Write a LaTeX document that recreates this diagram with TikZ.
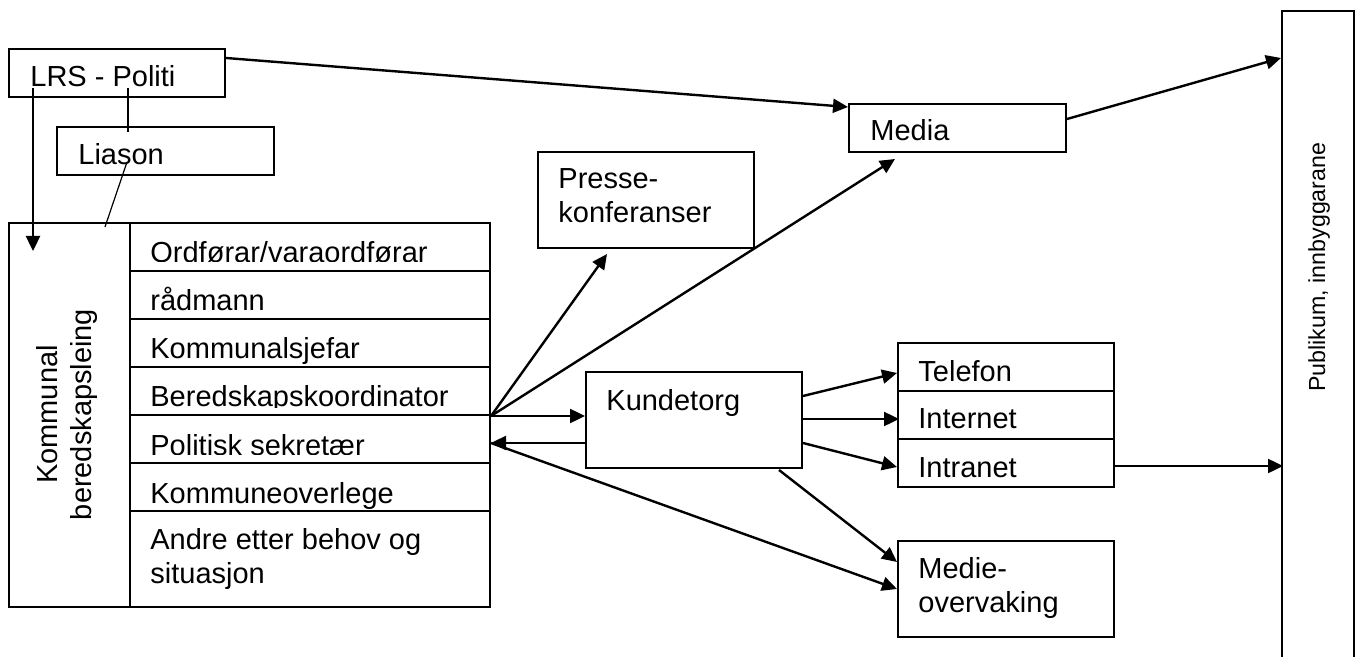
\documentclass[tikz,border=0pt]{standalone}
\usepackage{fontspec}
\setmainfont{Liberation Sans}
\usetikzlibrary{arrows.meta,calc}
\begin{document}
\begin{tikzpicture}[x=0.5pt,y=-0.5pt,
  box/.style={draw,line width=1pt,fill=white,rectangle,inner sep=0pt,anchor=north west},
  txt/.style={anchor=base west,inner sep=0pt,font=\fontsize{14.5}{17}\selectfont},
  vtxt/.style={txt,anchor=base,rotate=90},
  arr/.style={-{Triangle[length=7.5pt,width=7pt]},line width=1.2pt},
  link/.style={line width=0.6pt}]
\clip (0,0) rectangle (1359,657);
% ---- boxes
\node[box,minimum width=108pt,minimum height=24pt] (lrs) at (8,48) {};
\node[box,minimum width=108.5pt,minimum height=24pt] (lia) at (56,126) {};
\node[box,minimum width=240.5pt,minimum height=192pt] (big) at (8,222) {};
\node[box,minimum width=180pt,minimum height=24pt] (r1) at (129,222) {};
\node[box,minimum width=180pt,minimum height=24pt] (r2) at (129,270) {};
\node[box,minimum width=180pt,minimum height=24pt] (r3) at (129,318) {};
\node[box,minimum width=180pt,minimum height=24pt] (r4) at (129,366) {};
\node[box,minimum width=180pt,minimum height=24pt] (r5) at (129,414) {};
\node[box,minimum width=180pt,minimum height=24pt] (r6) at (129,462) {};
\node[box,minimum width=180pt,minimum height=48pt] (r7) at (129,510) {};
\node[box,minimum width=108pt,minimum height=48pt] (presse) at (537,151) {};
\node[box,minimum width=108.5pt,minimum height=24pt] (media) at (848,103) {};
\node[box,minimum width=108pt,minimum height=48pt] (kund) at (585,371) {};
\node[box,minimum width=108pt,minimum height=24pt] (tel) at (897,342) {};
\node[box,minimum width=108pt,minimum height=24pt] (inet) at (897,390) {};
\node[box,minimum width=108pt,minimum height=24pt] (intra) at (897,438) {};
\node[box,minimum width=108pt,minimum height=48pt] (medie) at (897,540) {};
\node[box,minimum width=36pt,minimum height=330pt] (pub) at (1281,10) {};
% ---- texts
\node[txt] (t-lrs) at (30,87) {LRS - Politi};
\node[txt] (t-lia) at (78,165) {Liason};
\begin{scope}
\clip (129,222) rectangle (489,262);
\node[txt] (t-r1) at (150,263) {Ordførar/varaordførar};
\end{scope}
\node[txt] (t-r2) at (150,311) {rådmann};
\node[txt] (t-r3) at (150,359) {Kommunalsjefar};
\begin{scope}
\clip (129,366) rectangle (489,407);
\node[txt] (t-r4) at (150,407) {Beredskapskoordinator};
\end{scope}
\begin{scope}
\clip (129,414) rectangle (489,454);
\node[txt] (t-r5) at (150,455) {Politisk sekretær};
\end{scope}
\node[txt] (t-r6) at (150,503) {Kommuneoverlege};
\node[txt] (t-r7a) at (150,549) {Andre etter behov og};
\node[txt] (t-r7b) at (150,583) {situasjon};
\node[vtxt] (t-k1) at (57,414.5) {Kommunal};
\node[vtxt] (t-k2) at (91,414.5) {beredskapsleing};
\node[txt] (t-pr1) at (558,189) {Presse-};
\node[txt] (t-pr2) at (558,223) {konferanser};
\node[txt] (t-media) at (870,141) {Media};
\node[txt] (t-kund) at (606,410) {Kundetorg};
\node[txt] (t-tel) at (918,381) {Telefon};
\node[txt] (t-inet) at (918,429) {Internet};
\node[txt] (t-intra) at (918,477) {Intranet};
\node[txt] (t-me1) at (918,578) {Medie-};
\node[txt] (t-me2) at (918,612) {overvaking};
\node[txt,rotate=90,font=\fontsize{11.6}{14}\selectfont] (t-pub) at (1325,392) {Publikum, innbyggarane};
% ---- connectors
\coordinate (F) at (r4.south east);
\coordinate (R) at ($(r5.east)+(0,4)$);
\draw[arr] ($(lrs.north east)+(0,10)$) -- ($(media.north west)+(0,4)$);
\draw[arr] ($(lrs.south west)+(25,-10)$) -- ($(big.north west)+(25,29)$);
\draw[link] ($(lrs.south west)+(120,-10)$) -- ($(lia.north west)+(72,6)$);
\draw[link] ($(lia.north west)+(71,36)$) -- ($(big.north west)+(97,5)$);
\draw[arr] (F) -- ($(presse.south west)+(70,5)$);
\draw[arr] (F) -- ($(media.south west)+(47,6)$);
\draw[arr] (F) -- (F -| kund.west);
\draw[arr] (R -| kund.west) -- (R);
\draw[arr] (R) -- (medie.west);
\draw[arr] ($(kund.north east)+(0,25)$) -- ($(tel.west)+(0,6)$);
\draw[arr] ($(kund.north east)+(0,48)$) -- ($(kund.north east)+(96,48)$);
\draw[arr] ($(kund.north east)+(0,72)$) -- ($(intra.west)+(0,4)$);
\draw[arr] ($(kund.south east)+(-24,1)$) -- ($(medie.north west)+(0,22)$);
\draw[arr] ($(media.north east)+(0,16)$) -- ($(pub.north west)+(0,48)$);
\draw[arr] ($(intra.east)+(0,3)$) -- ($(intra.east)+(168,3)$);
\end{tikzpicture}
\end{document}
